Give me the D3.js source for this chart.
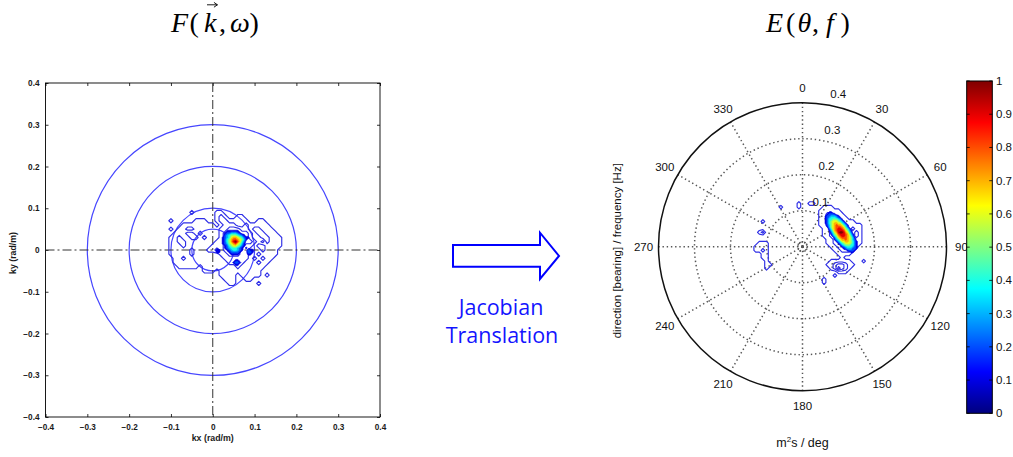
<!DOCTYPE html>
<html><head><meta charset="utf-8">
<script src="https://cdn.jsdelivr.net/npm/d3@7"></script>
<style>html,body{margin:0;padding:0;background:#fff;}svg{display:block;}</style>
</head><body>
<svg id="fig" width="1013" height="457"></svg>
<script>
// ---------------- data ----------------
// Wavenumber axes (rad/m)
const kTicks = [-0.4, -0.3, -0.2, -0.1, 0, 0.1, 0.2, 0.3, 0.4];
const kRings = [0.05, 0.1, 0.2, 0.3];

// F(k, w): low-level field, grid step 0.01 rad/m, first column kx=-0.11, first row ky=0.10
// each run = [row, firstColumn, level digits]
const fLowSpec = { x0: -0.11, y0: 0.10, step: 0.01, cols: 29, rows: 20 };
const fLowRuns = [
  [1, 6, "1"], [1, 12, "11"],
  [2, 12, "121"], [2, 17, "11"],
  [3, 1, "1"], [3, 7, "111"], [3, 12, "12211111"], [3, 22, "11"],
  [4, 4, "11111111"], [4, 13, "122211211111"],
  [5, 1, "1"], [5, 3, "11221111112233322122111"],
  [6, 2, "1110012111123344332122111"],
  [7, 1, "112110012111234444321122111"],
  [8, 1, "112211111112234444332102111"],
  [9, 1, "111211111122234443221221111"],
  [10, 1, "11111211122323333221112111"],
  [11, 1, "11111211111122333221121111"],
  [12, 2, "112111111111222222121211"],
  [13, 2, "11111111111112222111211"],
  [14, 3, "111110111111112111111"],
  [15, 9, "111"], [15, 13, "1111111111"],
  [16, 13, "1111011111"], [16, 24, "1"],
  [17, 14, "111"], [17, 19, "11"],
  [18, 15, "11"], [18, 22, "1"]
];
// F(k, w): normalised peak, grid step 0.005 rad/m, first column kx=0, first row ky=0.06 (tenths, a = 1.0)
const fPeakSpec = { x0: 0.0, y0: 0.06, step: 0.005, cols: 21, rows: 22 };
const fPeakRuns = [
  [3, 7, "111111"],
  [4, 6, "12233321"],
  [5, 6, "2345554321"],
  [6, 5, "1234677654211"],
  [7, 5, "124578876531"],
  [8, 5, "124579a8642"],
  [9, 5, "12356786531"],
  [10, 6, "1245665421"],
  [11, 6, "12344432101"],
  [12, 2, "11"], [12, 7, "12344321"], [12, 17, "211"],
  [13, 2, "11"], [13, 8, "122221"], [13, 17, "221"],
  [14, 9, "1111"], [14, 17, "11"],
  [17, 11, "11"],
  [18, 10, "1221"],
  [19, 11, "11"]
];

// E(theta, f): bearings, frequency rings (Hz), colour scale
const bearingTicks = [0, 30, 60, 90, 120, 150, 180, 210, 240, 270, 300, 330];
const freqRings = [0.1, 0.2, 0.3, 0.4];
const colorTicks = [0, 0.1, 0.2, 0.3, 0.4, 0.5, 0.6, 0.7, 0.8, 0.9, 1];

// E: low-level field on frequency components (east = f sin(theta), north = f cos(theta)),
// step 0.01 Hz, first column east=-0.14, first row north=0.14
const eLowSpec = { x0: -0.14, y0: 0.14, step: 0.01, cols: 33, rows: 27 };
const eLowRuns = [
  [2, 13, "1"], [2, 16, "11"],
  [3, 8, "1"], [3, 13, "1"], [3, 20, "111"],
  [4, 19, "111111"],
  [5, 19, "1122111"],
  [6, 19, "11222111"],
  [7, 3, "1"], [7, 19, "1122221111"],
  [8, 19, "112222211111"],
  [9, 20, "11222221211"],
  [10, 2, "12"], [10, 20, "11222222121"],
  [11, 20, "11222222121"],
  [12, 21, "1122222211"],
  [13, 2, "111"], [13, 21, "1122222211"],
  [14, 1, "1111"], [14, 22, "11222221"],
  [15, 1, "1121"], [15, 23, "112221"],
  [16, 3, "11"], [16, 24, "1111"],
  [17, 3, "11"], [17, 25, "1"],
  [18, 4, "1"], [18, 22, "111111"], [18, 31, "1"],
  [19, 4, "11"], [19, 21, "11233211"],
  [20, 4, "1"], [20, 22, "124321"],
  [21, 24, "111"],
  [22, 23, "1"],
  [23, 20, "1"],
  [24, 20, "1"]
];
// E: normalised peak, step 0.005 Hz, first column east=0.05, first row north=0.10 (tenths, a = 1.0)
const ePeakSpec = { x0: 0.05, y0: 0.10, step: 0.005, cols: 23, rows: 25 };
const ePeakRuns = [
  [1, 5, "11"],
  [2, 4, "12221"],
  [3, 3, "12233321"],
  [4, 3, "123444321"],
  [5, 3, "1244555431"],
  [6, 3, "12456665431"],
  [7, 3, "124567766431"],
  [8, 4, "235678776431"],
  [9, 4, "135678887642"],
  [10, 5, "246789987542"],
  [11, 5, "1357899986531"],
  [12, 6, "24679aa97642"],
  [13, 6, "1356899987531"],
  [14, 7, "245789987642"],
  [15, 8, "246788876531"],
  [16, 8, "134677876532"],
  [17, 9, "134667765421"],
  [18, 10, "13456665421"],
  [19, 11, "1345554421"],
  [20, 12, "123444321"],
  [21, 13, "12333221"],
  [22, 15, "12221"],
  [23, 17, "11"]
];

const lineLevels = [0.5, 1.5, 2.5, 3.5];
const fillLevels = [0.05, 0.15, 0.25, 0.35, 0.45, 0.55, 0.65, 0.75, 0.85, 0.95];

// ---------------- helpers ----------------
const sans = "'Liberation Sans', Arial, Helvetica, sans-serif";
const serif = "'Liberation Serif', 'Times New Roman', serif";
const svg = d3.select("#fig");

function jet(v) {
  const c = t => Math.max(0, Math.min(1, t));
  return d3.rgb(255 * c(1.5 - Math.abs(4 * v - 3)),
                255 * c(1.5 - Math.abs(4 * v - 2)),
                255 * c(1.5 - Math.abs(4 * v - 1))).formatHex();
}

function gridValues(spec, runs, unit) {
  const v = new Array(spec.cols * spec.rows).fill(0);
  runs.forEach(([r, c, s]) => {
    for (let k = 0; k < s.length; k++) v[r * spec.cols + c + k] = parseInt(s[k], 36) * unit;
  });
  return v;
}

// path generator mapping grid coordinates -> data -> pixels
function gridPath(spec, sx, sy) {
  return d3.geoPath(d3.geoTransform({
    point(X, Y) {
      this.stream.point(sx(spec.x0 + (X - 0.5) * spec.step), sy(spec.y0 - (Y - 0.5) * spec.step));
    }
  }));
}

function drawLines(g, spec, runs, sx, sy) {
  const vals = gridValues(spec, runs, 1);
  const cs = d3.contours().size([spec.cols, spec.rows]).thresholds(lineLevels)(vals);
  const p = gridPath(spec, sx, sy);
  g.selectAll(null).data(cs).join("path")
    .attr("d", p).attr("fill", "none")
    .attr("stroke", "#2e2ee6").attr("stroke-width", 1.15).attr("stroke-linejoin", "round");
}

function drawFills(g, spec, runs, sx, sy) {
  const vals = gridValues(spec, runs, 0.1);
  const cs = d3.contours().size([spec.cols, spec.rows]).thresholds(fillLevels)(vals);
  const p = gridPath(spec, sx, sy);
  g.selectAll(null).data(cs).join("path")
    .attr("d", p)
    .attr("fill", d => jet(Math.min(1, d.value + 0.05)))
    .attr("stroke", d => jet(Math.min(1, d.value + 0.05)))
    .attr("stroke-width", 0.6).attr("stroke-linejoin", "round");
}

// ---------------- left panel: F(k, w) ----------------
const x = d3.scaleLinear().domain([-0.4, 0.4]).range([45.5, 380]);
const y = d3.scaleLinear().domain([-0.4, 0.4]).range([417, 83]);
const gL = svg.append("g");

const fmt = d => d === 0 ? "0" : d3.format(".1f")(d);
function styleAxis(sel) {
  sel.select(".domain").remove();
  sel.selectAll("line").attr("stroke", "#000").attr("stroke-width", 0.8);
  sel.selectAll("text").attr("font-family", sans).attr("font-size", 8.2)
    .attr("font-weight", "bold").attr("fill", "#1a1a1a");
}
gL.append("g").attr("transform", `translate(0,${y(-0.4)})`)
  .call(d3.axisBottom(x).tickValues(kTicks).tickSize(-3).tickSizeOuter(0).tickPadding(7).tickFormat(fmt)).call(styleAxis);
gL.append("g").attr("transform", `translate(${x(-0.4)},0)`)
  .call(d3.axisLeft(y).tickValues(kTicks).tickSize(-3).tickSizeOuter(0).tickPadding(6).tickFormat(fmt)).call(styleAxis);
gL.append("g").attr("transform", `translate(0,${y(0.4)})`)
  .call(d3.axisTop(x).tickValues(kTicks).tickSize(-3).tickSizeOuter(0).tickFormat("")).call(styleAxis);
gL.append("g").attr("transform", `translate(${x(0.4)},0)`)
  .call(d3.axisRight(y).tickValues(kTicks).tickSize(-3).tickSizeOuter(0).tickFormat("")).call(styleAxis);

gL.append("rect")
  .attr("x", x(-0.4)).attr("y", y(0.4))
  .attr("width", x(0.4) - x(-0.4)).attr("height", y(-0.4) - y(0.4))
  .attr("fill", "none").attr("stroke", "#000").attr("stroke-width", 0.9);

// reference wavenumber circles
gL.selectAll(null).data(kRings).join("circle")
  .attr("cx", x(0)).attr("cy", y(0)).attr("r", d => x(d) - x(0))
  .attr("fill", "none").attr("stroke", "#4646ff").attr("stroke-width", 1.2);

// dash-dot cross hairs
gL.append("line").attr("x1", x(0)).attr("x2", x(0)).attr("y1", y(0.4)).attr("y2", y(-0.4))
  .attr("stroke", "#333").attr("stroke-width", 1).attr("stroke-dasharray", "9,3,2,3");
gL.append("line").attr("x1", x(-0.4)).attr("x2", x(0.4)).attr("y1", y(0)).attr("y2", y(0))
  .attr("stroke", "#333").attr("stroke-width", 1).attr("stroke-dasharray", "9,3,2,3");

drawLines(gL.append("g"), fLowSpec, fLowRuns, x, y);
drawFills(gL.append("g"), fPeakSpec, fPeakRuns, x, y);

gL.append("text").attr("x", x(0)).attr("y", 441).attr("text-anchor", "middle")
  .attr("font-family", sans).attr("font-size", 8.8).attr("font-weight", "bold").attr("fill", "#1a1a1a").text("kx (rad/m)");
gL.append("text").attr("transform", `translate(16,${y(0) + 3}) rotate(-90)`).attr("text-anchor", "middle")
  .attr("font-family", sans).attr("font-size", 8.8).attr("font-weight", "bold").attr("fill", "#1a1a1a").text("ky (rad/m)");

// title F(k, w) with vector arrow over k
const tF = svg.append("text").attr("y", 31.7).attr("font-family", serif).attr("font-size", 28).attr("fill", "#000");
tF.append("tspan").attr("x", 171).attr("font-style", "italic").text("F");
tF.append("tspan").attr("x", 189.5).text("(");
tF.append("tspan").attr("x", 204).attr("font-style", "italic").text("k");
tF.append("tspan").attr("x", 219).text(",");
tF.append("tspan").attr("x", 230).attr("font-style", "italic").text("ω");
tF.append("tspan").attr("x", 249.5).text(")");
{
  const n = tF.node();
  const s = n.getStartPositionOfChar(2).x, e = n.getEndPositionOfChar(2).x;
  svg.append("path")
    .attr("d", `M${s + 3},4.8H${e + 1}M${e - 2.5},2.4L${e + 1},4.8L${e - 2.5},7.2`)
    .attr("fill", "none").attr("stroke", "#000").attr("stroke-width", 0.9);
}

// ---------------- arrow and caption ----------------
svg.append("path")
  .attr("d", "M453,245H540V232.7L559,255.9L540,279V266.7H453Z")
  .attr("fill", "#fff").attr("stroke", "#0000ff").attr("stroke-width", 2).attr("stroke-linejoin", "miter");
svg.append("text").attr("x", 501).attr("y", 315).attr("text-anchor", "middle")
  .attr("font-family", "'Open Sans', 'Noto Sans', sans-serif").attr("font-size", 21.5).attr("fill", "#1414ff").text("Jacobian");
svg.append("text").attr("x", 502).attr("y", 343).attr("text-anchor", "middle")
  .attr("font-family", "'Open Sans', 'Noto Sans', sans-serif").attr("font-size", 21.5).attr("fill", "#1414ff").text("Translation");

// ---------------- right panel: E(theta, f) ----------------
const cx = 802.5, cy = 246.7, R = 144;
const r = d3.scaleLinear().domain([0, 0.4]).range([0, R]);
const ex = d3.scaleLinear().domain([-0.4, 0.4]).range([cx - R, cx + R]);
const ny = d3.scaleLinear().domain([-0.4, 0.4]).range([cy + R, cy - R]);
const rad = d => d * Math.PI / 180;
const gR = svg.append("g");

const dotStyle = sel => sel.attr("fill", "none").attr("stroke", "#555").attr("stroke-width", 1.5).attr("stroke-dasharray", "1.4,2.8");

gR.selectAll(null).data(bearingTicks).join("line")
  .attr("x1", cx).attr("y1", cy)
  .attr("x2", d => cx + r(0.4) * Math.sin(rad(d))).attr("y2", d => cy - r(0.4) * Math.cos(rad(d)))
  .call(dotStyle);
gR.selectAll(null).data(freqRings.slice(0, -1)).join("circle")
  .attr("cx", cx).attr("cy", cy).attr("r", d => r(d)).call(dotStyle);
gR.append("circle").attr("cx", cx).attr("cy", cy).attr("r", 4.5).call(dotStyle).attr("stroke-dasharray", "1.2,1.6");
gR.append("circle").attr("cx", cx).attr("cy", cy).attr("r", r(0.4))
  .attr("fill", "none").attr("stroke", "#111").attr("stroke-width", 1.5);

drawLines(gR.append("g"), eLowSpec, eLowRuns, ex, ny);
drawFills(gR.append("g"), ePeakSpec, ePeakRuns, ex, ny);

gR.selectAll(null).data(bearingTicks).join("text")
  .attr("x", d => cx + (r(0.4) + 15) * Math.sin(rad(d)))
  .attr("y", d => cy - (r(0.4) + 15) * Math.cos(rad(d)))
  .attr("text-anchor", "middle").attr("dominant-baseline", "central")
  .attr("font-family", sans).attr("font-size", 11.5).attr("fill", "#111").text(d => d);
gR.selectAll(null).data(freqRings).join("text")
  .attr("x", d => cx + 12 + 0.165 * r(d))
  .attr("y", d => cy - r(d) - 8.5)
  .attr("text-anchor", "middle").attr("dominant-baseline", "central")
  .attr("font-family", sans).attr("font-size", 11.5).attr("fill", "#111").text(d => d);

gR.append("text").attr("transform", `translate(617,${cy + 4}) rotate(-90)`)
  .attr("text-anchor", "middle").attr("dominant-baseline", "central")
  .attr("font-family", sans).attr("font-size", 11.5).attr("fill", "#111")
  .text("direction [bearing] / frequency [Hz]");
const xl = gR.append("text").attr("x", cx).attr("y", 447).attr("text-anchor", "middle")
  .attr("font-family", sans).attr("font-size", 12.5).attr("fill", "#111");
xl.append("tspan").text("m");
xl.append("tspan").attr("font-size", 8).attr("dy", -5).text("2");
xl.append("tspan").attr("dy", 5).text("s / deg");

// title E(theta, f)
const tE = svg.append("text").attr("y", 31.7).attr("font-family", serif).attr("font-size", 28).attr("fill", "#000");
tE.append("tspan").attr("x", 766).attr("font-style", "italic").text("E");
tE.append("tspan").attr("x", 786).text("(");
tE.append("tspan").attr("x", 797.5).attr("font-style", "italic").text("θ");
tE.append("tspan").attr("x", 812).text(",");
tE.append("tspan").attr("x", 826).attr("font-style", "italic").text("f");
tE.append("tspan").attr("x", 840.5).text(")");

// ---------------- colour bar ----------------
const cb = { x: 966.7, w: 25.6 };
const cbY = d3.scaleLinear().domain([0, 1]).range([413.3, 81]);
const grad = svg.append("defs").append("linearGradient").attr("id", "jetGrad")
  .attr("x1", 0).attr("y1", 1).attr("x2", 0).attr("y2", 0);
d3.range(0, 65).forEach(i => {
  grad.append("stop").attr("offset", i / 64).attr("stop-color", jet(i / 64));
});
svg.append("rect").attr("x", cb.x).attr("y", cbY(1)).attr("width", cb.w).attr("height", cbY(0) - cbY(1))
  .attr("fill", "url(#jetGrad)").attr("stroke", "#000").attr("stroke-width", 1);
const cbT = svg.append("g");
cbT.selectAll(null).data(colorTicks).join("line")
  .attr("x1", cb.x).attr("x2", cb.x + 3).attr("y1", d => cbY(d)).attr("y2", d => cbY(d))
  .attr("stroke", "#000").attr("stroke-width", 0.8);
cbT.selectAll(null).data(colorTicks).join("line")
  .attr("x1", cb.x + cb.w - 3).attr("x2", cb.x + cb.w).attr("y1", d => cbY(d)).attr("y2", d => cbY(d))
  .attr("stroke", "#000").attr("stroke-width", 0.8);
cbT.selectAll(null).data(colorTicks).join("text")
  .attr("x", 996).attr("y", d => cbY(d)).attr("dominant-baseline", "central")
  .attr("font-family", sans).attr("font-size", 11.5).attr("fill", "#111").text(d => d);
</script>
</body></html>
